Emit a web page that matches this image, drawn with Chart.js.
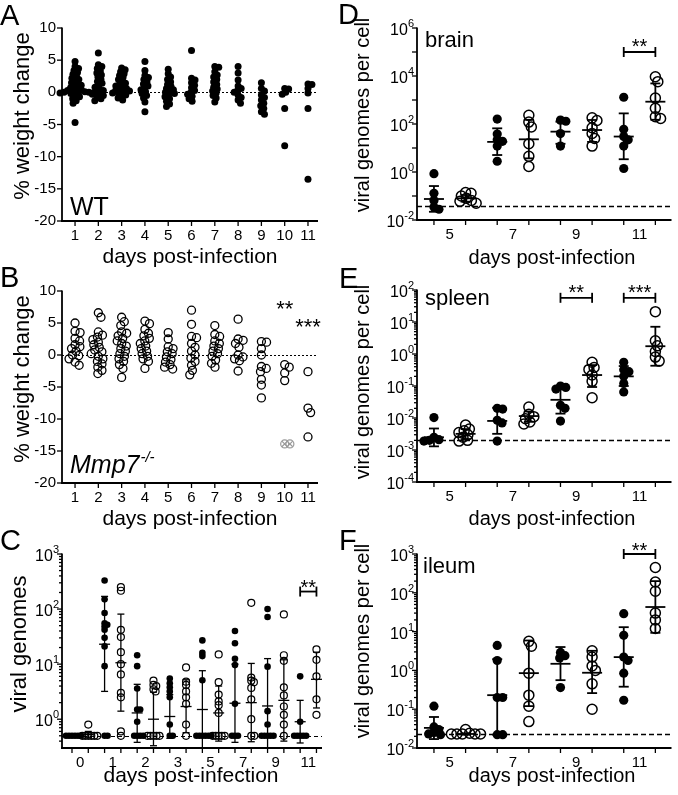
<!DOCTYPE html>
<html>
<head>
<meta charset="utf-8">
<script src="https://cdn.jsdelivr.net/npm/chart.js@4.4.1/dist/chart.umd.min.js"></script>
<style>
  body { margin: 0; background: #fff; }
  #wrap { position: relative; width: 678px; height: 795px; }
  #wrap canvas { position: absolute; left: 0; top: 0; }
</style>
</head>
<body>
<div id="wrap">
  <canvas id="cA" width="678" height="795"></canvas>
  <canvas id="cB" width="678" height="795"></canvas>
  <canvas id="cC" width="678" height="795"></canvas>
  <canvas id="cD" width="678" height="795"></canvas>
  <canvas id="cE" width="678" height="795"></canvas>
  <canvas id="cF" width="678" height="795"></canvas>
</div>
<script>
// ---------- weight change (A: WT, B: Mmp7-/-) ----------
var weightDays = [1, 2, 3, 4, 5, 6, 7, 8, 9, 10, 11];
var weightTicks = [-20, -15, -10, -5, 0, 5, 10];
var wtWeight = [
  [4.8, 4.0, 3.7, 3.4, 3.1, 2.8, 2.5, 2.2, 2.0, 1.8, 1.5, 1.3, 1.1, 0.9, 0.7, 0.5, 0.4, 0.3, 0.2, 0.1, 0.0, 0.0, -0.1, -0.1, -0.2, -0.3, -0.5, -0.7, -1.0, -1.3, -1.7, -4.7],
  [6.1, 4.3, 4.0, 3.7, 3.3, 3.0, 2.7, 2.4, 2.0, 1.7, 1.4, 1.1, 0.8, 0.5, 0.3, 0.1, -0.1, -0.3, -0.5, -0.8, -1.0, -1.3],
  [3.8, 3.5, 3.2, 2.9, 2.6, 2.3, 2.0, 1.7, 1.4, 1.2, 1.0, 0.8, 0.6, 0.4, 0.3, 0.2, 0.0, -0.1, -0.2, -0.4, -0.6, -0.9, -1.2],
  [4.8, 3.4, 2.6, 2.3, 2.0, 1.6, 1.3, 1.0, 0.7, 0.4, 0.1, -0.2, -0.5, -0.9, -1.5, -3.0],
  [3.6, 2.9, 2.4, 2.0, 1.6, 1.2, 0.9, 0.6, 0.4, 0.2, 0.0, -0.2, -0.4, -0.7, -1.0, -1.4, -1.8, -2.2],
  [6.5, 2.2, 1.9, 1.5, 1.1, 0.7, 0.3, 0.0, -0.3, -0.6, -1.0, -1.4],
  [4.0, 3.9, 3.2, 2.7, 2.4, 2.0, 1.6, 1.2, 0.8, 0.5, 0.2, -0.1, -0.5, -0.9, -1.5],
  [4.0, 3.0, 1.9, 1.0, 0.6, 0.3, 0.0, -0.4, -0.8, -1.2, -1.7],
  [1.5, 0.6, 0.2, -0.4, -0.8, -1.2, -1.7, -2.1, -2.5, -3.0, -3.4],
  [0.6, 0.5, 0.0, -0.3, -2.5, -8.3],
  [1.3, 1.2, 0.6, -0.1, -2.5, -13.5]
];
var koWeight = [
  [5.0, 3.7, 3.5, 2.6, 2.2, 1.6, 1.3, 1.0, 0.6, 0.0, -0.1, -0.6, -1.1, -1.6],
  [6.6, 5.9, 3.6, 3.1, 2.8, 2.4, 2.0, 1.6, 1.2, 0.8, 0.5, 0.2, -0.2, -0.6, -1.0, -1.4, -1.9, -2.4, -2.9],
  [5.9, 5.2, 4.6, 3.6, 3.4, 3.0, 2.6, 2.2, 1.8, 1.4, 1.0, 0.6, 0.2, -0.2, -0.6, -1.0, -1.5, -2.1, -3.5],
  [5.3, 4.9, 4.0, 3.4, 3.0, 2.6, 2.2, 1.8, 1.4, 1.0, 0.6, 0.2, -0.2, -0.6, -1.0, -2.1],
  [3.5, 2.5, 1.3, 1.0, 0.5, 0.2, -0.3, -0.7, -1.1, -1.5, -1.9, -2.2],
  [7.0, 4.8, 2.9, 2.7, 1.8, 1.2, 0.6, 0.0, -0.5, -1.0, -1.6, -2.4, -3.1],
  [4.6, 3.2, 2.9, 2.2, 1.8, 1.4, 1.0, 0.6, 0.2, -0.2, -0.8, -1.3, -1.9],
  [5.6, 2.5, 2.3, 1.8, 1.2, 0.0, -0.3, -0.6, -0.9, -2.5],
  [2.1, 2.0, 1.0, 0.0, -1.8, -2.1, -2.6, -3.8, -4.7, -6.7],
  [-1.5, -1.9, -2.8, -4.0],
  [-2.6, -8.3, -9.0, -12.8]
];
var koCensoredDay = 10;
var koCensored = [-13.9, -13.9];

// ---------- viral genomes in feces (C) ----------
var fecesDays = [0, 1, 2, 3, 5, 7, 9, 11];
var fecesLimit = 0.5;
var fecesWT = [
  [0.5, 0.5, 0.5, 0.5, 0.5, 0.5],
  [330, 150, 85, 55, 52, 48, 42, 30, 21, 9.2, 0.5, 0.5],
  [14.5, 9.2, 3.6, 1.5, 1.5, 0.9, 0.5, 0.5, 0.5, 0.5],
  [5.5, 4.5, 3.8, 3.2, 2.5, 0.8, 0.5, 0.5],
  [27, 16, 14, 5.1, 0.5, 0.5, 0.5, 0.5, 0.5, 0.5],
  [40, 24, 12.5, 9.6, 1.9, 0.5, 0.5, 0.5],
  [100, 72, 9, 1.4, 0.8, 0.5, 0.5, 0.5, 0.5, 0.5],
  [6, 0.9, 0.5, 0.5, 0.5, 0.5, 0.5]
];
var fecesKO = [
  [0.8, 0.5, 0.5, 0.5, 0.5, 0.5, 0.5],
  [250, 215, 42, 31, 16.5, 10, 6.5, 3.0, 2.5, 0.6, 0.5],
  [5.0, 4.2, 4.0, 3.5, 3.2, 0.5, 0.5, 0.5, 0.5, 0.5],
  [8.7, 4.8, 4.2, 3.2, 2.5, 1.9, 0.8, 0.5],
  [15, 4.7, 2.8, 2.1, 1.8, 1.3, 0.5, 0.5, 0.5, 0.5, 0.5],
  [130, 5.7, 5.0, 4.7, 3.7, 2.3, 1.0, 0.5, 0.5],
  [80, 14.5, 11.5, 3.8, 2.7, 1.7, 1.2, 0.8, 0.5],
  [18.5, 12, 6, 2.3, 1.2]
];
var fecesWTMean = [0.5, 23, 1.3, 1.12, 1.5, 1.95, 1.74, 0.9];
var fecesWTLow  = [0.5, 3.2, 0.38, 0.45, 0.3, 0.38, 0.25, 0.37];
var fecesWTHigh = [0.5, 170, 4.3, 2.8, 7.6, 10, 12.6, 2.2];
var fecesKOMean = [0.53, 10.6, 1.0, 1.7, 1.3, 2.0, 2.2, 5.3];
var fecesKOLow  = [0.47, 1.4, 0.33, 0.57, 0.4, 0.39, 0.4, 1.6];
var fecesKOHigh = [0.6, 81, 3.1, 5.2, 4.0, 10.3, 12, 16.5];

// ---------- viral genomes per cell in organs (D brain, E spleen, F ileum) ----------
var organDays = [5, 7, 9, 11];

var brainLimit = 0.04;
var brainWT = [[0.85, 0.13, 0.065, 0.035, 0.028], [160, 38, 22, 19, 12, 2.8], [145, 130, 40, 12], [1300, 60, 30, 22, 12, 1.4]];
var brainKO = [[0.14, 0.13, 0.1, 0.08, 0.065, 0.06, 0.05], [230, 120, 75, 15, 4.5, 1.7], [180, 140, 70, 40, 25, 12], [9300, 5800, 1200, 450, 200, 170]];
var brainWTMean = [0.075, 18, 48, 30];
var brainWTLow  = [0.022, 5.1, 15, 3.4];
var brainWTHigh = [0.26, 66, 125, 277];
var brainKOMean = [0.08, 23, 56, 850];
var brainKOLow  = [0.058, 3.7, 18, 150];
var brainKOHigh = [0.11, 150, 147, 4900];

var spleenLimit = 0.002;
var spleenWT = [[0.0103, 0.0025, 0.0021, 0.002, 0.0019], [0.02, 0.019, 0.0085, 0.007, 0.0019], [0.1, 0.09, 0.08, 0.025, 0.02, 0.008], [0.55, 0.32, 0.28, 0.2, 0.12, 0.065]];
var spleenKO = [[0.006, 0.0045, 0.004, 0.0035, 0.003, 0.0025, 0.002, 0.0019], [0.022, 0.013, 0.011, 0.0095, 0.0075, 0.0065], [0.55, 0.38, 0.33, 0.22, 0.14, 0.043], [21, 2.6, 1.8, 1.2, 0.8, 0.6]];
var spleenWTMean = [0.0025, 0.0081, 0.037, 0.2];
var spleenWTLow  = [0.0013, 0.0032, 0.0137, 0.1];
var spleenWTHigh = [0.0047, 0.021, 0.1, 0.42];
var spleenKOMean = [0.0032, 0.0115, 0.22, 1.75];
var spleenKOLow  = [0.0022, 0.0076, 0.093, 0.43];
var spleenKOHigh = [0.0045, 0.016, 0.45, 7.1];

var ileumLimit = 0.023;
var ileumWT = [[0.12, 0.035, 0.03, 0.025, 0.023, 0.022], [4.4, 1.8, 0.2, 0.2, 0.022, 0.022], [2.9, 2.4, 2.1, 0.36], [29, 8, 2.2, 1.8, 0.85, 0.17]];
var ileumKO = [[0.03, 0.024, 0.023, 0.023, 0.023, 0.023, 0.023], [5.6, 4.2, 0.85, 0.23, 0.12, 0.048], [3.2, 2.2, 1.3, 1.0, 0.45, 0.1], [450, 190, 110, 30, 20, 12]];
var ileumWTMean = [0.033, 0.23, 1.48, 2.2];
var ileumWTLow  = [0.017, 0.022, 0.56, 0.38];
var ileumWTHigh = [0.063, 1.95, 4.0, 13];
var ileumKOMean = [0.023, 0.85, 0.87, 43];
var ileumKOLow  = [0.022, 0.12, 0.26, 9.3];
var ileumKOHigh = [0.024, 5.9, 3.2, 200];

// ---------- drawing ----------
var FONT = "'Liberation Sans', Arial, Helvetica, sans-serif";
var looks = {};

function line(ctx, x1, y1, x2, y2) {
  ctx.beginPath(); ctx.moveTo(x1, y1); ctx.lineTo(x2, y2); ctx.stroke();
}

// spreads points of one column sideways so they do not sit on top of each other
function beeswarm(py, dmin) {
  var idx = py.map(function (_, i) { return i; }).sort(function (a, b) { return py[a] - py[b]; });
  var placed = [], out = [];
  idx.forEach(function (i) {
    var y = py[i], cands = [0];
    placed.forEach(function (p) {
      var dy = Math.abs(p.y - y);
      if (dy < dmin) {
        var w = Math.sqrt(dmin * dmin - dy * dy);
        cands.push(p.x + w, p.x - w);
      }
    });
    cands.sort(function (a, b) { return Math.abs(a) - Math.abs(b); });
    var best = 0;
    for (var k = 0; k < cands.length; k++) {
      var c = cands[k];
      var ok = placed.every(function (p) {
        var dx = p.x - c, dy = p.y - y;
        return dx * dx + dy * dy >= dmin * dmin - 0.01;
      });
      if (ok) { best = c; break; }
    }
    out[i] = best;
    placed.push({ x: best, y: y });
  });
  return out;
}

function spread(chart, dmin) {
  var xs = chart.scales.x, ys = chart.scales.y;
  var unit = Math.abs(xs.getPixelForValue(1) - xs.getPixelForValue(0));
  chart.data.datasets.forEach(function (ds) {
    var groups = {};
    ds.data.forEach(function (p) { (groups[p.g] = groups[p.g] || []).push(p); });
    Object.keys(groups).forEach(function (k) {
      var pts = groups[k];
      var off = beeswarm(pts.map(function (p) { return ys.getPixelForValue(p.y); }), dmin);
      pts.forEach(function (p, i) { p.x = p.g + off[i] / unit; });
    });
  });
  chart.update('none');
}

var prism = {
  id: 'prism',
  beforeDatasetsDraw: function (chart) {
    var s = looks[chart.canvas.id];
    if (s.limit == null) return;
    var ctx = chart.ctx, a = chart.chartArea;
    var y = Math.round(chart.scales.y.getPixelForValue(s.limit)) + 0.5;
    ctx.save();
    ctx.strokeStyle = '#000';
    ctx.lineWidth = s.limitWidth;
    ctx.setLineDash(s.limitDash);
    line(ctx, a.left, y, a.right, y);
    ctx.restore();
  },
  afterDatasetsDraw: function (chart) {
    var s = looks[chart.canvas.id];
    var ctx = chart.ctx, a = chart.chartArea, xs = chart.scales.x, ys = chart.scales.y;
    ctx.save();
    ctx.strokeStyle = '#000';
    ctx.fillStyle = '#000';

    // mean +/- SD bars
    (s.bars || []).forEach(function (b) {
      var x = xs.getPixelForValue(b.g);
      var lo = Math.max(b.lo, ys.min);
      var yLo = ys.getPixelForValue(lo), yHi = ys.getPixelForValue(b.hi), yM = ys.getPixelForValue(b.mean);
      ctx.lineWidth = s.barWidth;
      line(ctx, x, yLo, x, yHi);
      if (b.lo > ys.min) line(ctx, x - s.capW / 2, yLo, x + s.capW / 2, yLo);
      line(ctx, x - s.capW / 2, yHi, x + s.capW / 2, yHi);
      line(ctx, x - s.meanW / 2, yM, x + s.meanW / 2, yM);
    });

    // axes
    ctx.lineWidth = s.axisWidth;
    line(ctx, a.left, a.top - 0.5, a.left, a.bottom + s.axisWidth / 2);
    line(ctx, a.left - s.axisWidth / 2, a.bottom, a.right, a.bottom);

    ctx.lineWidth = 1.3;
    s.xTicks.forEach(function (v) {
      var x = xs.getPixelForValue(v);
      line(ctx, x, a.bottom, x, a.bottom + 5);
    });
    ctx.font = s.tickFont + 'px ' + FONT;
    ctx.textAlign = 'center';
    ctx.textBaseline = 'middle';
    s.xLabels.forEach(function (l) {
      ctx.fillText(l.text, xs.getPixelForValue(l.at), a.bottom + 15);
    });

    if (s.log) {
      (s.minor || []).forEach(function (v) {
        var y = ys.getPixelForValue(v);
        line(ctx, a.left - 3, y, a.left, y);
      });
      s.yTicks.forEach(function (t) {
        var y = ys.getPixelForValue(t.v);
        line(ctx, a.left - 5, y, a.left, y);
        if (t.exp == null) return;
        var exp = String(t.exp);
        ctx.font = s.expFont + 'px ' + FONT;
        var we = ctx.measureText(exp).width;
        ctx.textAlign = 'left';
        var right = a.left - 3;
        ctx.fillText(exp, right - we, y - 4);
        ctx.font = s.logFont + 'px ' + FONT;
        var wb = ctx.measureText('10').width;
        ctx.fillText('10', right - we - wb, y + 2.5);
      });
    } else {
      ctx.textAlign = 'right';
      s.yTicks.forEach(function (t) {
        var y = ys.getPixelForValue(t.v);
        line(ctx, a.left - 5, y, a.left, y);
        ctx.fillText(String(t.v), a.left - 6, y);
      });
    }

    // brackets with significance stars
    (s.brackets || []).forEach(function (b) {
      var x1 = xs.getPixelForValue(b.from), x2 = xs.getPixelForValue(b.to), y = ys.getPixelForValue(b.at);
      ctx.lineWidth = 1.8;
      line(ctx, x1, y, x2, y);
      line(ctx, x1, y - 5, x1, y + 5);
      line(ctx, x2, y - 5, x2, y + 5);
      ctx.font = s.starFont + 'px ' + FONT;
      ctx.textAlign = 'center';
      ctx.textBaseline = 'alphabetic';
      ctx.fillText(b.text, (x1 + x2) / 2, y - b.lift + s.starFont * 0.57);
    });
    (s.stars || []).forEach(function (t) {
      ctx.font = s.starFont + 'px ' + FONT;
      ctx.textAlign = 'center';
      ctx.textBaseline = 'alphabetic';
      ctx.fillText(t.text, xs.getPixelForValue(t.x), ys.getPixelForValue(t.y) + s.starFont * 0.57);
    });

    // titles and labels
    ctx.textBaseline = 'alphabetic';
    ctx.textAlign = 'center';
    ctx.font = s.titleFont + 'px ' + FONT;
    ctx.fillText('days post-infection', s.xTitle[0], s.xTitle[1]);
    ctx.save();
    ctx.translate(s.yTitle[0], s.yTitle[1]);
    ctx.rotate(-Math.PI / 2);
    ctx.textBaseline = 'middle';
    ctx.font = s.yTitleFont + 'px ' + FONT;
    ctx.fillText(s.yTitleText, 0, 0);
    ctx.restore();

    ctx.textAlign = 'left';
    ctx.font = '29px ' + FONT;
    ctx.fillText(s.letter, s.letterPos[0], s.letterPos[1]);

    (s.inner || []).forEach(function (t) {
      ctx.font = (t.italic ? 'italic ' : '') + t.size + 'px ' + FONT;
      ctx.fillText(t.text, t.x, t.y);
      if (t.sup) {
        var w = ctx.measureText(t.text).width;
        ctx.font = (t.italic ? 'italic ' : '') + '15px ' + FONT;
        ctx.fillText(t.sup, t.x + w + 1, t.y - 11);
      }
    });
    ctx.restore();
  }
};

function filled(r) {
  return { pointRadius: r, pointBackgroundColor: '#000', pointBorderColor: '#000', pointBorderWidth: 0 };
}
function open(r, w, color) {
  return { pointRadius: r, pointBackgroundColor: 'rgba(0,0,0,0)', pointBorderColor: color || '#000', pointBorderWidth: w };
}
function columns(groups, centers, style) {
  var pts = [];
  groups.forEach(function (vals, i) {
    vals.forEach(function (v) { pts.push({ x: centers[i], y: v, g: centers[i] }); });
  });
  var ds = { data: pts, clip: false, showLine: false, pointHoverRadius: 0 };
  for (var k in style) ds[k] = style[k];
  return ds;
}
function barsFrom(mean, low, high, offset) {
  return mean.map(function (m, i) { return { g: 2 * i + offset, mean: m, lo: low[i], hi: high[i] }; });
}
function logTicks(minExp, maxExp, every) {
  var t = [];
  for (var e = minExp; e <= maxExp; e++) t.push({ v: Math.pow(10, e), exp: (e - minExp) % every === 0 ? e : null });
  return t;
}
function logMinor(lo, hi) {
  var m = [];
  for (var e = Math.floor(Math.log10(lo)); e < Math.ceil(Math.log10(hi)); e++)
    for (var k = 2; k <= 9; k++) { var v = k * Math.pow(10, e); if (v > lo && v < hi) m.push(v); }
  return m;
}

function makeChart(id, datasets, area, xr, yType, yr) {
  return new Chart(document.getElementById(id), {
    type: 'scatter',
    data: { datasets: datasets },
    options: {
      responsive: false,
      animation: false,
      devicePixelRatio: 1,
      layout: { padding: { left: area[0], top: area[1], right: 678 - area[2], bottom: 795 - area[3] } },
      scales: {
        x: { type: 'linear', display: false, min: xr[0], max: xr[1] },
        y: { type: yType, display: false, min: yr[0], max: yr[1] }
      },
      plugins: { legend: { display: false }, tooltip: { enabled: false } }
    },
    plugins: [prism]
  });
}

var dayLabels = weightDays.map(function (d) { return { at: d, text: String(d) }; });
var linTicks = weightTicks.map(function (v) { return { v: v }; });
var group16 = []; for (var i = 0; i < 16; i++) group16.push(i);
var group8 = [0, 1, 2, 3, 4, 5, 6, 7];

// A
looks.cA = {
  letter: 'A', letterPos: [0, 25], yTitleText: '% weight change', yTitle: [23, 116], xTitle: [190, 263],
  titleFont: 21, yTitleFont: 22, tickFont: 15, starFont: 22, axisWidth: 1.8,
  yTicks: linTicks, xTicks: weightDays, xLabels: dayLabels,
  limit: 0, limitDash: [2, 2], limitWidth: 1,
  inner: [{ text: 'WT', x: 70, y: 215, size: 25 }]
};
var chA = makeChart('cA', [columns(wtWeight, weightDays, filled(3.5))], [62, 28, 318, 221], [0.44, 11.43], 'linear', [-20, 10]);
spread(chA, 4);

// B
looks.cB = {
  letter: 'B', letterPos: [0, 287], yTitleText: '% weight change', yTitle: [23, 379], xTitle: [190, 525],
  titleFont: 21, yTitleFont: 22, tickFont: 15, starFont: 22, axisWidth: 1.8,
  yTicks: linTicks, xTicks: weightDays, xLabels: dayLabels,
  limit: 0, limitDash: [2, 2], limitWidth: 1,
  stars: [{ text: '**', x: 10, y: 8.1 }, { text: '***', x: 11, y: 5.2 }],
  inner: [{ text: 'Mmp7', sup: '-/-', italic: true, x: 70, y: 473, size: 25 }]
};
var chB = makeChart('cB', [
  columns(koWeight, weightDays, open(4, 1.3)),
  columns([koCensored], [koCensoredDay], open(4, 1.2, '#9a9a9a')),
  columns([koCensored], [koCensoredDay], { pointStyle: 'crossRot', pointRadius: 4, pointBorderColor: '#9a9a9a', pointBorderWidth: 1.2 })
], [62, 291, 318, 483], [0.44, 11.43], 'linear', [-20, 10]);
spread(chB, 5.2);

// C
looks.cC = {
  letter: 'C', letterPos: [0, 550], yTitleText: 'viral genomes', yTitle: [20, 644], xTitle: [191, 782],
  titleFont: 21, yTitleFont: 22, tickFont: 15, logFont: 16, expFont: 11, starFont: 20, axisWidth: 1.8, log: true,
  yTicks: logTicks(0, 3, 1), minor: logMinor(0.312, 1000),
  xTicks: group16, xLabels: fecesDays.map(function (d, i) { return { at: 2 * i + 0.5, text: String(d) }; }),
  limit: fecesLimit, limitDash: [4, 3], limitWidth: 1.2,
  bars: barsFrom(fecesWTMean, fecesWTLow, fecesWTHigh, 0).concat(barsFrom(fecesKOMean, fecesKOLow, fecesKOHigh, 1)),
  barWidth: 1.3, capW: 7, meanW: 11,
  brackets: [{ from: 14, to: 15, at: 208, text: '**', lift: 9 }]
};
var chC = makeChart('cC', [
  columns(fecesWT, fecesDays.map(function (d, i) { return 2 * i; }), filled(3.3)),
  columns(fecesKO, fecesDays.map(function (d, i) { return 2 * i + 1; }), open(3.5, 1.2))
], [62, 554, 322, 748], [-0.613, 15.34], 'logarithmic', [0.312, 1000]);
spread(chC, 3);

// D, E, F
function organLooks(letter, letterPos, name, namePos, yTitleY, xTitleY, ticks, minor, limit, bars, brackets) {
  return {
    letter: letter, letterPos: letterPos, yTitleText: 'viral genomes per cell', yTitle: [363, yTitleY], xTitle: [552, xTitleY],
    titleFont: 20, yTitleFont: 20, tickFont: 15, logFont: 16, expFont: 11, starFont: 20, axisWidth: 1.8, log: true,
    yTicks: ticks, minor: minor,
    xTicks: group8, xLabels: organDays.map(function (d, i) { return { at: 2 * i + 0.5, text: String(d) }; }),
    limit: limit, limitDash: [5, 3], limitWidth: 1.5,
    bars: bars, barWidth: 1.8, capW: 10, meanW: 20,
    brackets: brackets,
    inner: [{ text: name, x: namePos[0], y: namePos[1], size: 22 }]
  };
}
var organCenters = [[0, 2, 4, 6], [1, 3, 5, 7]];

looks.cD = organLooks('D', [338, 24], 'brain', [425, 47], 115, 264, logTicks(-2, 6, 2), [],
  brainLimit,
  barsFrom(brainWTMean, brainWTLow, brainWTHigh, 0).concat(barsFrom(brainKOMean, brainKOLow, brainKOHigh, 1)),
  [{ from: 6, to: 7, at: 1e5, text: '**', lift: 10 }]);
var chD = makeChart('cD', [
  columns(brainWT, organCenters[0], filled(4.6)),
  columns(brainKO, organCenters[1], open(5, 1.5))
], [417, 28, 677, 220], [-0.536, 7.51], 'logarithmic', [0.01, 1e6]);
spread(chD, 5.5);

looks.cE = organLooks('E', [339, 288], 'spleen', [425, 305], 382, 525, logTicks(-4, 2, 1), logMinor(1e-4, 100),
  spleenLimit,
  barsFrom(spleenWTMean, spleenWTLow, spleenWTHigh, 0).concat(barsFrom(spleenKOMean, spleenKOLow, spleenKOHigh, 1)),
  [{ from: 4, to: 5, at: 57, text: '**', lift: 10 }, { from: 6, to: 7, at: 57, text: '***', lift: 10 }]);
var chE = makeChart('cE', [
  columns(spleenWT, organCenters[0], filled(4.6)),
  columns(spleenKO, organCenters[1], open(5, 1.5))
], [417, 290, 677, 482], [-0.536, 7.51], 'logarithmic', [1e-4, 100]);
spread(chE, 5.5);

looks.cF = organLooks('F', [339, 550], 'ileum', [423, 573], 641, 782, logTicks(-2, 3, 1), logMinor(0.01, 1000),
  ileumLimit,
  barsFrom(ileumWTMean, ileumWTLow, ileumWTHigh, 0).concat(barsFrom(ileumKOMean, ileumKOLow, ileumKOHigh, 1)),
  [{ from: 6, to: 7, at: 1000, text: '**', lift: 8 }]);
var chF = makeChart('cF', [
  columns(ileumWT, organCenters[0], filled(4.6)),
  columns(ileumKO, organCenters[1], open(5, 1.5))
], [417, 554, 677, 748], [-0.536, 7.51], 'logarithmic', [0.01, 1000]);
spread(chF, 5.5);
</script>
</body>
</html>
